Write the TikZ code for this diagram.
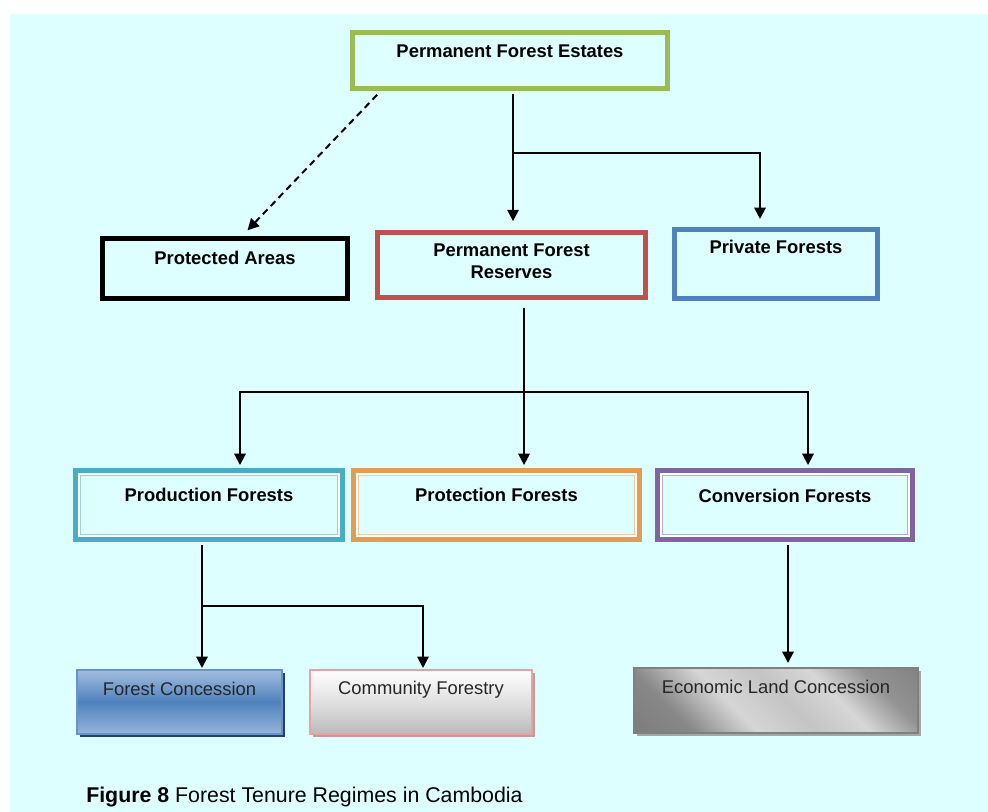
\documentclass[tikz,border=0pt]{standalone}
\definecolor{bgcyan}{HTML}{DDFFFF}
\definecolor{estgreen}{HTML}{9BBB59}
\definecolor{resred}{HTML}{C0504D}
\definecolor{privblue}{HTML}{4F81BD}
\definecolor{prodcyan}{HTML}{4BACC6}
\definecolor{protorange}{HTML}{E29D52}
\definecolor{convpurple}{HTML}{8064A2}
\definecolor{fclight}{HTML}{A3BEE0}
\definecolor{fcshadow}{HTML}{23406F}
\definecolor{cfborder}{HTML}{E6A3A3}
\definecolor{cfshadow}{HTML}{C79A9A}
\definecolor{metdark}{HTML}{6E6E6E}
\definecolor{metlight}{HTML}{D6D6D6}
\definecolor{metmid}{HTML}{C4C4C4}
\definecolor{elcshadow}{HTML}{A6A6A6}
\usepackage{fontspec}
\setmainfont{Liberation Sans}
\usepackage{xcolor}
\usepackage{tikz}
\usetikzlibrary{arrows.meta, positioning, calc, shadows}
\pgfdeclarehorizontalshading{metal}{100bp}{color(0bp)=(metdark); color(27bp)=(metdark!75!metlight);
  color(40bp)=(metlight); color(52bp)=(metmid); color(63bp)=(metlight);
  color(74bp)=(metdark!65!metlight); color(100bp)=(metdark)}

\begin{document}
\begin{tikzpicture}[x=0.75pt, y=-0.75pt,
    tenure/.style={draw, line width=3.8pt, fill=bgcyan, inner sep=0pt, outer sep=0pt, align=center,
      font=\fontsize{13.8}{16.5}\selectfont\bfseries},
    regime/.style={draw, line width=0.8pt, inner sep=0pt, outer sep=0pt, align=center, text=black!85,
      font=\fontsize{13.8}{16.5}\selectfont},
    arr/.style={-{Triangle[length=8.5pt, width=8.5pt]}, line width=1.5pt}]
    % Background
    \useasboundingbox (0,0) rectangle (988,812);
    \fill[bgcyan] (10,14) rectangle (988,812);
    % Top level
    \node[tenure, draw=estgreen, minimum width=236.25pt, text height=18.75pt, text depth=23.25pt]
      (pfe) at (510,60.5) {Permanent Forest Estates};
    % Second level
    \node[tenure, draw=black, minimum width=183.75pt, text height=19.5pt, text depth=25.5pt]
      (pa) at (225,268.5) {Protected Areas};
    \node[tenure, draw=resred, minimum width=201pt, text height=34.5pt, text depth=14.25pt]
      (pfr) at (511.5,265) {Permanent Forest\\Reserves};
    \node[tenure, draw=privblue, minimum width=152.25pt, text height=18pt, text depth=33.75pt]
      (priv) at (776,264) {Private Forests};
    % Third level (double frame)
    \node[tenure, draw=prodcyan, minimum width=200.25pt, text height=23.25pt, text depth=28.5pt]
      (prod) at (209,505) {Production Forests};
    \node[tenure, draw=protorange, minimum width=214.5pt, text height=23.25pt, text depth=28.5pt]
      (prot) at (496.5,505) {Protection Forests};
    \node[tenure, draw=convpurple, minimum width=191.25pt, text height=24pt, text depth=27.75pt]
      (conv) at (785,505) {Conversion Forests};
    \foreach \n/\c in {prod/prodcyan, prot/protorange, conv/convpurple} {
      \draw[white, line width=1.4pt] ([shift={(2.6pt,-2.6pt)}]\n.north west)
        rectangle ([shift={(-2.6pt,2.6pt)}]\n.south east);
      \draw[\c!55, line width=0.9pt] ([shift={(3.75pt,-3.75pt)}]\n.north west)
        rectangle ([shift={(-3.75pt,3.75pt)}]\n.south east);
    }
    % Bottom level
    \node[regime, draw=privblue!85, top color=fclight, bottom color=fclight!85!privblue, middle color=privblue,
      drop shadow={shadow xshift=2.2pt, shadow yshift=-2.2pt, fill=fcshadow, opacity=1},
      minimum width=153.75pt, text height=19pt, text depth=29pt]
      (fc) at (179.5,702) {Forest Concession};
    \node[regime, draw=cfborder, top color=white, bottom color=black!27, middle color=black!12,
      drop shadow={shadow xshift=2.2pt, shadow yshift=-2.2pt, fill=cfshadow, opacity=1},
      minimum width=166.5pt, text height=18.5pt, text depth=29.5pt]
      (cf) at (421,702) {Community Forestry};
    \node[regime, draw=black!50, shading=metal, shading angle=45,
      drop shadow={shadow xshift=2.2pt, shadow yshift=-2.2pt, fill=elcshadow, opacity=1},
      minimum width=213pt, text height=19.2pt, text depth=29.55pt]
      (elc) at (776,700.5) {Economic Land Concession};
    % Estates to second level
    \draw[arr, shorten <=4pt, shorten >=8.5pt] ([xshift=2.25pt]pfe.south) -- ([xshift=2.25pt]pfe.south |- pfr.north);
    \draw[arr, shorten >=7.9pt] ([xshift=2.25pt]pfe.south) ++(0,64.5) -| ([xshift=-12pt]priv.north);
    \draw[arr, dashed, dash pattern=on 5pt off 3.5pt, shorten <=6.5pt, shorten >=8.5pt]
      ([xshift=23pt]pfe.south west) -- ([xshift=11pt]pa.north);
    % Reserves to third level
    \draw[arr, shorten <=7.9pt, shorten >=4.1pt] ([xshift=9.4pt]pfr.south) -- ([xshift=9.4pt]pfr.south |- prot.north);
    \draw[arr, shorten >=4.1pt] ([xshift=9.4pt]pfr.south) ++(0,94.5) -| ([xshift=23.25pt]prod.north);
    \draw[arr, shorten >=4.1pt] ([xshift=9.4pt]pfr.south) ++(0,94.5) -| ([xshift=17.25pt]conv.north);
    % Production and conversion to concessions
    \draw[arr, shorten <=4pt, shorten >=1.5pt] ([xshift=-5.25pt]prod.south) -- ([xshift=-5.25pt]prod.south |- fc.north);
    \draw[arr, shorten >=1.5pt] ([xshift=-5.25pt]prod.south) ++(0,66.5) -| ([xshift=1.5pt]cf.north);
    \draw[arr, shorten <=4pt, shorten >=3.75pt] ([xshift=2.25pt]conv.south) -- ([xshift=2.25pt]conv.south |- elc.north);
    % Caption
    \node[anchor=base west, inner sep=0pt, font=\fontsize{16}{19}\selectfont] (caption) at (86,802.6)
      {\textbf{Figure 8} Forest Tenure Regimes in Cambodia};
\end{tikzpicture}
\end{document}
